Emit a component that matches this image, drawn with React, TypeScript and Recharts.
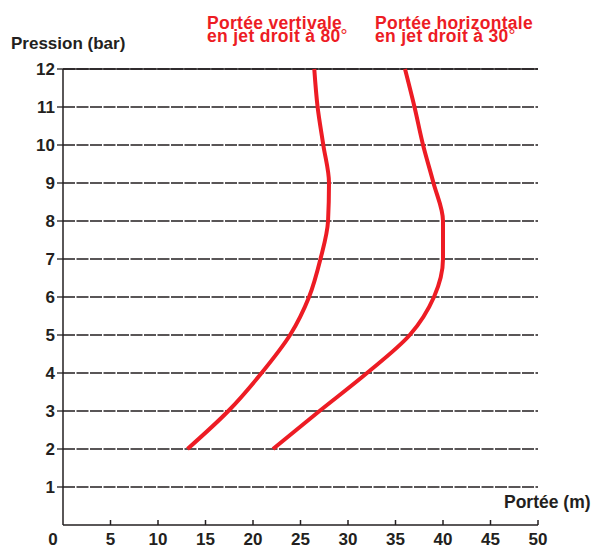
import React from 'react';
import { LineChart, Line, XAxis, YAxis, CartesianGrid, ReferenceLine } from 'recharts';

// Pression (bar)
const pressures = [2, 3, 4, 5, 6, 7, 8, 9, 10, 11, 12];
// Portée verticale en jet droit à 80° (m)
const verticalRange = [13.1, 17.4, 20.9, 23.9, 25.9, 27.1, 27.9, 28.0, 27.4, 26.8, 26.45];
// Portée horizontale en jet droit à 30° (m)
const horizontalRange = [22.1, 27.0, 32.0, 36.5, 39.05, 40.0, 40.0, 39.0, 37.9, 37.0, 36.0];

const xTicks = [0, 5, 10, 15, 20, 25, 30, 35, 40, 45, 50];
const yTicks = [1, 2, 3, 4, 5, 6, 7, 8, 9, 10, 11, 12];

const verticalData = pressures.map((p, i) => ({ p, v: verticalRange[i] }));
const horizontalData = pressures.map((p, i) => ({ p, v: horizontalRange[i] }));

const DARK = '#231f20';
const RED = '#ed1c24';
const FONT = '"Liberation Sans", Arial, sans-serif';

const XTick = (props: any) => {
  const { x, y, payload } = props;
  const isZero = payload.value === 0;
  return (
    <g>
      {!isZero && <line x1={x} x2={x} y1={y - 5} y2={y} stroke={DARK} strokeWidth={1.5} />}
      <text
        x={isZero ? x - 10 : x}
        y={y + 19.5}
        textAnchor="middle"
        fontFamily={FONT}
        fontWeight="bold"
        fontSize={17}
        fill={DARK}
      >
        {payload.value}
      </text>
    </g>
  );
};

export default function App() {
  return (
    <div style={{ position: 'absolute', left: 0, top: 0, width: 594, height: 547, background: '#fff' }}>
      <LineChart
        width={594}
        height={547}
        layout="vertical"
        margin={{ top: 69, right: 56, bottom: 0, left: 0 }}
      >
        <CartesianGrid
          horizontal
          vertical={false}
          stroke={DARK}
          strokeWidth={1.3}
          strokeDasharray="12 1.5"
          horizontalValues={yTicks}
        />
        <ReferenceLine y={12} stroke={DARK} strokeWidth={1.3} />
        <XAxis
          type="number"
          domain={[0, 50]}
          ticks={xTicks}
          interval={0}
          height={22}
          tickSize={0}
          tickMargin={0}
          tickLine={false}
          axisLine={{ stroke: DARK, strokeWidth: 1.5 }}
          tick={<XTick />}
        />
        <YAxis
          type="number"
          dataKey="p"
          domain={[0, 12]}
          ticks={yTicks}
          interval={0}
          reversed
          width={63}
          tickSize={6}
          tickMargin={2}
          axisLine={{ stroke: DARK, strokeWidth: 1.5 }}
          tickLine={{ stroke: DARK, strokeWidth: 1.3 }}
          tick={{ fontFamily: FONT, fontWeight: 'bold', fontSize: 17, fill: DARK }}
        />
        <Line
          data={verticalData}
          dataKey="v"
          type="monotone"
          stroke={RED}
          strokeWidth={4}
          dot={false}
          activeDot={false}
          isAnimationActive={false}
        />
        <Line
          data={horizontalData}
          dataKey="v"
          type="monotone"
          stroke={RED}
          strokeWidth={4}
          dot={false}
          activeDot={false}
          isAnimationActive={false}
        />
      </LineChart>
      <svg
        width={594}
        height={547}
        style={{ position: 'absolute', left: 0, top: 0, pointerEvents: 'none' }}
      >
        <text x={11} y={49} fontFamily={FONT} fontWeight="bold" fontSize={17} fill={DARK}>
          Pression (bar)
        </text>
        <text x={207} y={29} fontFamily={FONT} fontWeight="bold" fontSize={17.5} fill={RED} letterSpacing={0.3}>
          Portée vertivale
        </text>
        <text x={207} y={41.5} fontFamily={FONT} fontWeight="bold" fontSize={17.5} fill={RED} letterSpacing={0.3}>
          en jet droit à 80<tspan fontWeight="normal">°</tspan>
        </text>
        <text x={375} y={29} fontFamily={FONT} fontWeight="bold" fontSize={17.5} fill={RED} letterSpacing={0.3}>
          Portée horizontale
        </text>
        <text x={375} y={41.5} fontFamily={FONT} fontWeight="bold" fontSize={17.5} fill={RED} letterSpacing={0.3}>
          en jet droit à 30<tspan fontWeight="normal">°</tspan>
        </text>
        <text x={504} y={508} fontFamily={FONT} fontWeight="bold" fontSize={17.5} fill={DARK}>
          Portée (m)
        </text>
      </svg>
    </div>
  );
}
